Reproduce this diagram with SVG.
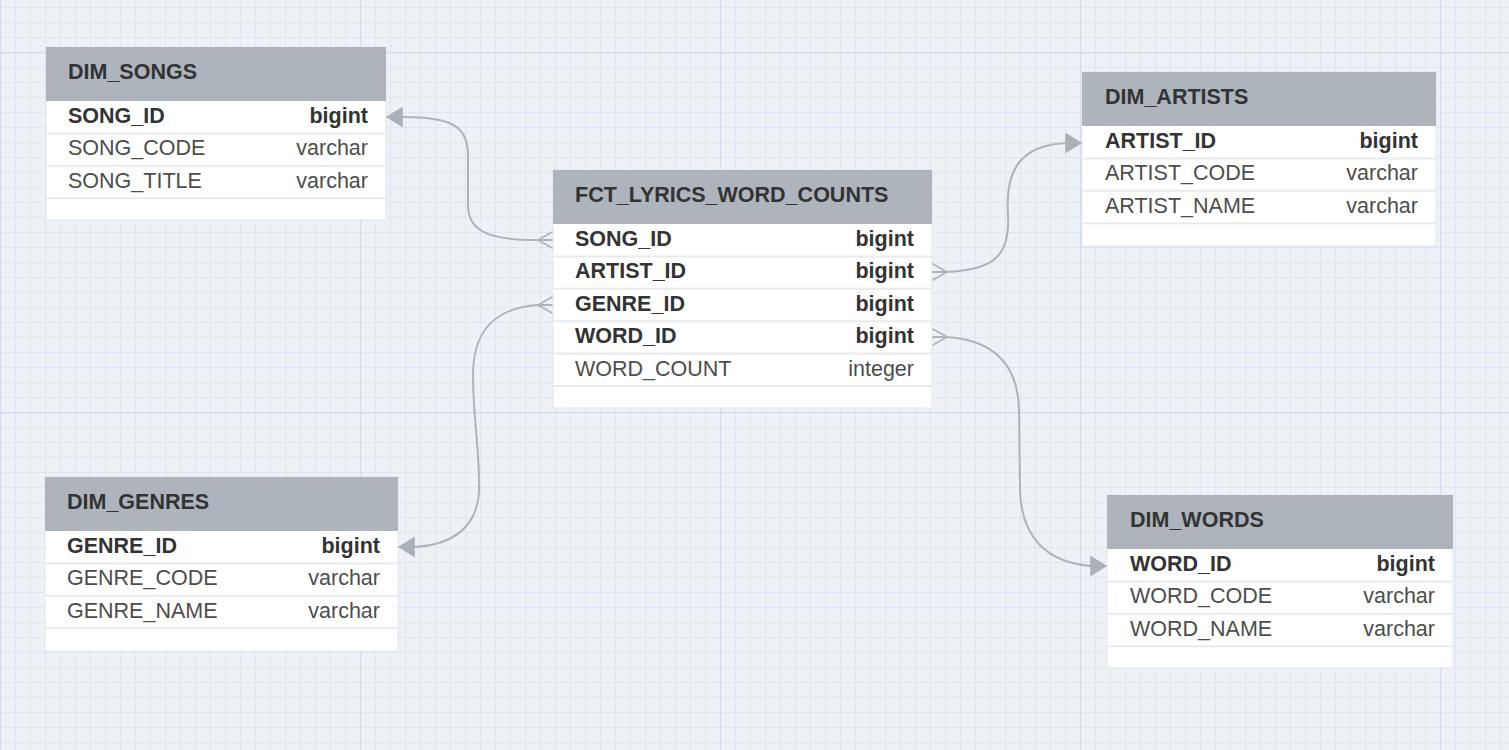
<svg xmlns="http://www.w3.org/2000/svg" width="1509" height="750" viewBox="0 0 1509 750">
<style>
.tbl{fill:#ffffff;stroke:#e1e6eb;stroke-width:1}
.hdr{fill:#adb4bb}
.sep{stroke:#e8ebee;stroke-width:2}
.title{font-family:"Liberation Sans",Arial,sans-serif;font-size:21.5px;font-weight:bold;fill:#333333}
.key{font-family:"Liberation Sans",Arial,sans-serif;font-size:21.5px;font-weight:bold;fill:#333333}
.fld{font-family:"Liberation Sans",Arial,sans-serif;font-size:21.5px;fill:#4d4d4d}
.r{text-anchor:end}
.conn{fill:none;stroke:#aeb4bb;stroke-width:2}
</style>
<defs>
<pattern id="minor" width="15" height="15" patternUnits="userSpaceOnUse" x="0" y="7">
<path d="M0.5 0 V15 M0 0.5 H15" stroke="#dde7f4" stroke-width="1" fill="none"/>
</pattern>
<pattern id="major" width="360" height="360" patternUnits="userSpaceOnUse" x="0" y="52">
<path d="M0.5 0 V360 M0 0.5 H360" stroke="#cfdcf0" stroke-width="1.3" fill="none"/>
</pattern>
<marker id="arrow" markerUnits="userSpaceOnUse" markerWidth="17" markerHeight="21" viewBox="0 0 16 20" refX="16" refY="10" orient="auto">
<path d="M0 0 L16 10 L0 20 Z" fill="#aab1b8"/>
</marker>
<marker id="crow" markerUnits="userSpaceOnUse" markerWidth="18" markerHeight="20" viewBox="-1 -10 18 20" refX="0" refY="0" orient="auto">
<path d="M0 -8.5 L15 0 L0 8.5 M0 0 L15 0" fill="none" stroke="#aeb4bb" stroke-width="1.6"/>
</marker>
</defs>
<rect x="0" y="0" width="1509" height="750" fill="#eef1f5"/>
<rect x="0" y="0" width="1509" height="750" fill="url(#minor)"/>
<rect x="0" y="0" width="1509" height="750" fill="url(#major)"/>

<g id="connectors">
<path class="conn" marker-start="url(#crow)" marker-end="url(#arrow)" d="M553 240 L538 240 C490 240 468 232 468 205 L468 155 C468 125 450 117 402 117 L386 117"/>
<path class="conn" marker-start="url(#crow)" marker-end="url(#arrow)" d="M932 272 L946 272 C995 270 1010 255 1008 215 C1005 170 1020 145 1067 143 L1082 143"/>
<path class="conn" marker-start="url(#crow)" marker-end="url(#arrow)" d="M553 305 L538 305 C495 308 473 330 473 375 C473 420 480 450 479 490 C478 525 455 545 414 547 L398 547"/>
<path class="conn" marker-start="url(#crow)" marker-end="url(#arrow)" d="M932 337 L946 337 C995 340 1018 365 1019 410 L1020 490 C1021 535 1045 563 1092 566 L1107 566"/>
</g>

<g id="dim_songs" transform="translate(46,47)">
<rect class="tbl" x="0" y="0" width="340" height="173"/>
<rect class="hdr" x="0" y="0" width="340" height="54"/>
<text class="title" x="22" y="32">DIM_SONGS</text>
<line class="sep" x1="0" y1="86.4" x2="340" y2="86.4"/>
<line class="sep" x1="0" y1="118.8" x2="340" y2="118.8"/>
<line class="sep" x1="0" y1="151.2" x2="340" y2="151.2"/>
<text class="key" x="22" y="76">SONG_ID</text><text class="key r" x="322" y="76">bigint</text>
<text class="fld" x="22" y="108.4">SONG_CODE</text><text class="fld r" x="322" y="108.4">varchar</text>
<text class="fld" x="22" y="140.8">SONG_TITLE</text><text class="fld r" x="322" y="140.8">varchar</text>
</g>

<g id="fct_lyrics_word_counts" transform="translate(553,170)">
<rect class="tbl" x="0" y="0" width="379" height="238"/>
<rect class="hdr" x="0" y="0" width="379" height="54"/>
<text class="title" x="22" y="32">FCT_LYRICS_WORD_COUNTS</text>
<line class="sep" x1="0" y1="86.4" x2="379" y2="86.4"/>
<line class="sep" x1="0" y1="118.8" x2="379" y2="118.8"/>
<line class="sep" x1="0" y1="151.2" x2="379" y2="151.2"/>
<line class="sep" x1="0" y1="183.6" x2="379" y2="183.6"/>
<line class="sep" x1="0" y1="216" x2="379" y2="216"/>
<text class="key" x="22" y="76">SONG_ID</text><text class="key r" x="361" y="76">bigint</text>
<text class="key" x="22" y="108.4">ARTIST_ID</text><text class="key r" x="361" y="108.4">bigint</text>
<text class="key" x="22" y="140.8">GENRE_ID</text><text class="key r" x="361" y="140.8">bigint</text>
<text class="key" x="22" y="173.2">WORD_ID</text><text class="key r" x="361" y="173.2">bigint</text>
<text class="fld" x="22" y="205.6">WORD_COUNT</text><text class="fld r" x="361" y="205.6">integer</text>
</g>

<g id="dim_artists" transform="translate(1082,72)">
<rect class="tbl" x="0" y="0" width="354" height="174"/>
<rect class="hdr" x="0" y="0" width="354" height="54"/>
<text class="title" x="23" y="32">DIM_ARTISTS</text>
<line class="sep" x1="0" y1="86.4" x2="354" y2="86.4"/>
<line class="sep" x1="0" y1="118.8" x2="354" y2="118.8"/>
<line class="sep" x1="0" y1="151.2" x2="354" y2="151.2"/>
<text class="key" x="23" y="76">ARTIST_ID</text><text class="key r" x="336" y="76">bigint</text>
<text class="fld" x="23" y="108.4">ARTIST_CODE</text><text class="fld r" x="336" y="108.4">varchar</text>
<text class="fld" x="23" y="140.8">ARTIST_NAME</text><text class="fld r" x="336" y="140.8">varchar</text>
</g>

<g id="dim_genres" transform="translate(45,477)">
<rect class="tbl" x="0" y="0" width="353" height="174"/>
<rect class="hdr" x="0" y="0" width="353" height="54"/>
<text class="title" x="22" y="32">DIM_GENRES</text>
<line class="sep" x1="0" y1="86.4" x2="353" y2="86.4"/>
<line class="sep" x1="0" y1="118.8" x2="353" y2="118.8"/>
<line class="sep" x1="0" y1="151.2" x2="353" y2="151.2"/>
<text class="key" x="22" y="76">GENRE_ID</text><text class="key r" x="335" y="76">bigint</text>
<text class="fld" x="22" y="108.4">GENRE_CODE</text><text class="fld r" x="335" y="108.4">varchar</text>
<text class="fld" x="22" y="140.8">GENRE_NAME</text><text class="fld r" x="335" y="140.8">varchar</text>
</g>

<g id="dim_words" transform="translate(1107,495)">
<rect class="tbl" x="0" y="0" width="346" height="173"/>
<rect class="hdr" x="0" y="0" width="346" height="54"/>
<text class="title" x="23" y="32">DIM_WORDS</text>
<line class="sep" x1="0" y1="86.4" x2="346" y2="86.4"/>
<line class="sep" x1="0" y1="118.8" x2="346" y2="118.8"/>
<line class="sep" x1="0" y1="151.2" x2="346" y2="151.2"/>
<text class="key" x="23" y="76">WORD_ID</text><text class="key r" x="328" y="76">bigint</text>
<text class="fld" x="23" y="108.4">WORD_CODE</text><text class="fld r" x="328" y="108.4">varchar</text>
<text class="fld" x="23" y="140.8">WORD_NAME</text><text class="fld r" x="328" y="140.8">varchar</text>
</g>
</svg>
